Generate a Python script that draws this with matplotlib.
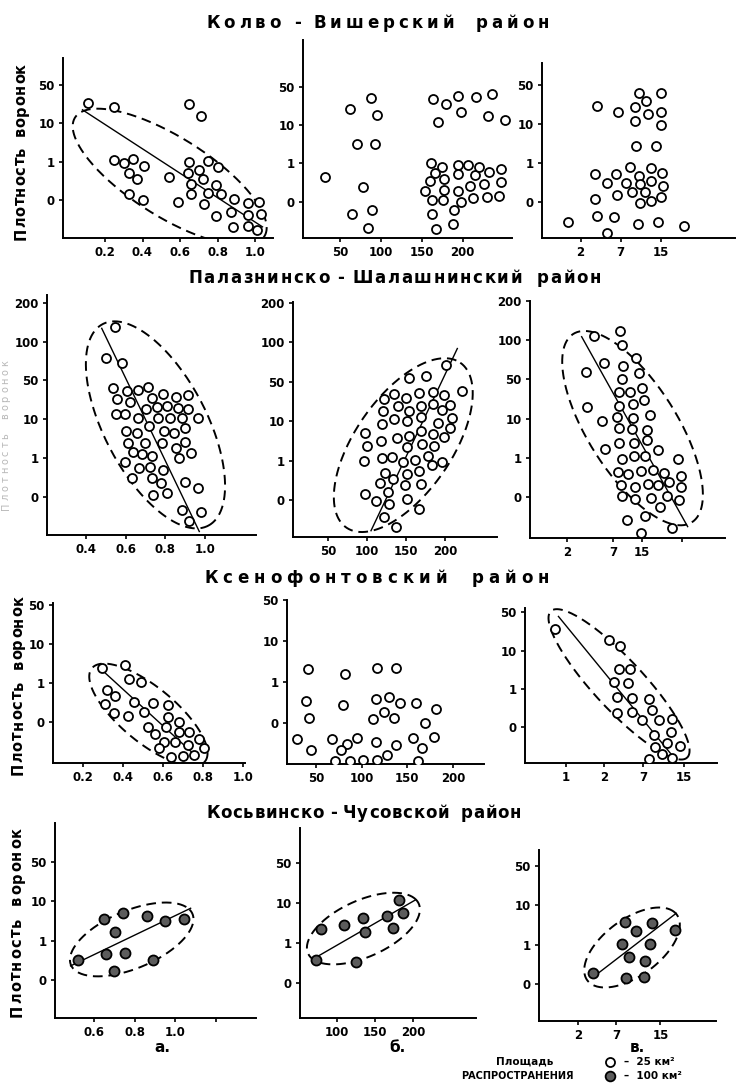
import numpy as np
import matplotlib
matplotlib.use("Agg")
import matplotlib.pyplot as plt
from matplotlib.lines import Line2D
from matplotlib.font_manager import FontProperties

# y values are in class units of the density scale:
# 0 -> "0", 1 -> "1", 2 -> "10", 3 -> "50", 4 -> "100", 5 -> "200"
# x values of the third column are class units of the uneven scale (2, 7, 15)

# --- Колво-Вишерский район
kv_a_x = [0.11, 0.25, 0.65, 0.71, 0.25, 0.30, 0.35, 0.33, 0.37, 0.41, 0.33, 0.40, 0.54, 0.59, 0.65, 0.64, 0.66, 0.66,
          0.70, 0.72, 0.75, 0.73, 0.75, 0.79, 0.80, 0.82, 0.79, 0.89, 0.87, 0.88, 0.96, 0.96, 0.96, 1.02, 1.03, 1.01]
kv_a_y = [2.54, 2.42, 2.50, 2.19, 1.04, 0.96, 1.08, 0.71, 0.54, 0.89, 0.16, 0.00, 0.61, -0.04, 1.00, 0.70, 0.43, 0.16,
          0.78, 0.54, 1.02, -0.10, 0.19, 0.39, 0.85, 0.16, -0.42, 0.02, -0.30, -0.71, -0.09, -0.39, -0.68, -0.04, -0.37, -0.78]
kv_a_line = ([0.08, 1.04], [2.35, -0.70])
kv_a_ell = ((0.545, 0.60), (0.505, -1.548), (0.112, 0.878))

kv_b_x = [31.6, 62, 87.6, 95.7, 70.4, 93.3, 78.6, 65, 89.6, 83.9,
          163.5, 179.8, 194, 216.5, 235.7, 170.4, 197.8, 230.8, 252.4,
          161.8, 175.3, 166, 160, 154.5, 176.9, 177, 163, 176, 194, 195, 194, 198, 207, 215, 209, 220, 213,
          233, 226, 230, 247, 247, 245, 163, 190, 188, 168]
kv_b_y = [0.65, 2.42, 2.71, 2.26, 1.50, 1.50, 0.39, -0.32, -0.23, -0.70,
          2.67, 2.55, 2.76, 2.72, 2.80, 2.09, 2.35, 2.24, 2.13,
          1.02, 0.91, 0.74, 0.54, 0.28, 0.60, 0.30, 0.04, 0.04, 0.95, 0.71, 0.29, 0.0, 0.95, 0.69, 0.41, 0.91, 0.10,
          0.78, 0.46, 0.11, 0.86, 0.50, 0.15, -0.32, -0.23, -0.59, -0.72]

kv_v_x = [0.69, 1.42, 1.94, 2.44, 3.0, 2.62, 2.35, 2.68, 3.0, 2.35, 3.0, 2.39, 2.88, 1.36, 1.65, 1.88, 2.23, 2.13, 2.44,
          2.48, 2.74, 2.76, 3.02, 3.06, 2.27, 2.60, 1.91, 1.37, 2.48, 2.76, 3.0, 1.42, 1.82, 1.65, 2.42, 2.92, 3.56]
kv_v_y = [-0.51, 2.46, 2.31, 2.78, 2.78, 2.59, 2.43, 2.25, 2.30, 2.06, 1.97, 1.44, 1.44, 0.70, 0.47, 0.70, 0.88, 0.49, 0.67,
          0.45, 0.87, 0.53, 0.75, 0.41, 0.24, 0.24, 0.17, 0.07, -0.02, 0.03, 0.11, -0.37, -0.39, -0.79, -0.58, -0.53, -0.63]

# --- Палазнинско-Шалашнинский район
ps_a_x = [0.546, 0.50, 0.583, 0.538, 0.558, 0.551, 0.598, 0.608, 0.622, 0.664, 0.714, 0.734, 0.703, 0.66, 0.756,
          0.761, 0.79, 0.807, 0.824, 0.854, 0.862, 0.886, 0.916, 0.916, 0.963, 0.60, 0.655, 0.61, 0.697, 0.717,
          0.795, 0.845, 0.90, 0.785, 0.852, 0.90, 0.635, 0.684, 0.731, 0.869, 0.928, 0.597, 0.669, 0.723, 0.634,
          0.731, 0.79, 0.776, 0.736, 0.807, 0.90, 0.963, 0.883, 0.978, 0.919]
ps_a_y = [4.38, 3.57, 3.44, 2.79, 2.52, 2.12, 2.13, 2.72, 2.43, 2.75, 2.84, 2.55, 2.25, 2.02, 2.32,
          2.04, 2.64, 2.34, 2.04, 2.56, 2.28, 2.04, 2.62, 2.26, 2.02, 1.68, 1.63, 1.37, 1.39, 1.83,
          1.70, 1.65, 1.76, 1.37, 1.26, 1.42, 1.14, 1.10, 1.06, 0.99, 1.13, 0.90, 0.73, 0.77, 0.49,
          0.49, 0.69, 0.34, 0.04, 0.10, 0.37, 0.21, -0.34, -0.39, -0.64]
ps_a_line = ([0.479, 0.971], [4.34, -0.90])
ps_a_ell = ((0.75, 1.85), (0.266, -2.60), (0.229, 0.61))

ps_b_x = [200.9, 221.4, 153.7, 175.6, 121.6, 134.4, 149.9, 166.6, 184.2, 198.7, 119.9, 139.2, 153.7, 169.2, 185,
          207, 195.7, 118.6, 134.4, 150.7, 168.7, 209.4, 190.6, 97.1, 99.3, 96.3, 117.3, 138.7, 153.7, 168.7,
          184.2, 206.4, 199.2, 150.7, 170, 185.9, 118.6, 132.3, 145.6, 161.4, 177.7, 183.7, 195.7, 122.9, 133.6,
          150.7, 167, 116.4, 126.3, 148.6, 169.2, 97.1, 111.3, 128, 150.7, 121.6, 166.6, 137]
ps_b_y = [3.42, 2.77, 3.10, 3.15, 2.56, 2.69, 2.58, 2.70, 2.74, 2.66, 2.26, 2.38, 2.26, 2.38, 2.43,
          2.41, 2.28, 1.93, 2.04, 2.0, 2.11, 2.09, 1.96, 1.71, 1.37, 0.99, 1.50, 1.56, 1.63, 1.75,
          1.67, 1.82, 1.59, 1.33, 1.41, 1.38, 1.07, 1.08, 0.95, 1.01, 1.11, 0.89, 0.95, 0.69, 0.53,
          0.66, 0.73, 0.42, 0.21, 0.38, 0.40, 0.14, -0.02, -0.10, 0.02, -0.44, -0.24, -0.68]
ps_b_line = ([104.9, 215.9], [-0.78, 3.84])
ps_b_ell = ((146.4, 1.39), (73.3, 2.09), (51, -0.70))

ps_v_x = [1.59, 2.14, 2.19, 1.41, 1.80, 2.20, 2.48, 2.54, 2.19, 2.62, 2.12, 2.36, 2.66, 1.44, 2.13, 2.41, 2.79, 1.75,
          2.07, 2.43, 2.11, 2.39, 2.71, 1.82, 2.13, 2.44, 2.71, 2.96, 2.19, 2.44, 2.68, 3.39, 2.09, 2.31, 2.59, 2.84,
          3.09, 3.44, 2.16, 2.46, 2.75, 2.95, 3.19, 3.44, 2.19, 2.46, 2.80, 3.14, 3.41, 3.0, 2.29, 2.68, 2.59, 3.25]
ps_v_y = [4.12, 4.24, 3.88, 3.18, 3.41, 3.34, 3.56, 3.16, 3.01, 2.78, 2.67, 2.69, 2.48, 2.29, 2.33, 2.37, 2.10, 1.95,
          2.05, 2.01, 1.76, 1.74, 1.71, 1.22, 1.38, 1.38, 1.46, 1.21, 0.98, 1.04, 1.04, 0.98, 0.65, 0.59, 0.68, 0.70,
          0.61, 0.55, 0.30, 0.27, 0.34, 0.30, 0.38, 0.25, 0.03, -0.04, -0.03, 0.02, -0.08, -0.26, -0.58, -0.47, -0.90, -0.79]
ps_v_line = ([1.32, 3.59], [4.09, -0.75])
ps_v_ell = ((2.41, 1.76), (1.27, -2.40), (0.81, 0.61))

# --- Ксенофонтовский район
ks_a_x = [0.292, 0.408, 0.428, 0.488, 0.317, 0.358, 0.308, 0.353, 0.425, 0.455, 0.505, 0.55, 0.525, 0.558, 0.625,
          0.625, 0.613, 0.605, 0.678, 0.58, 0.678, 0.73, 0.78, 0.803, 0.725, 0.658, 0.637, 0.697, 0.755]
ks_a_y = [1.38, 1.47, 1.10, 1.02, 0.83, 0.66, 0.47, 0.25, 0.16, 0.51, 0.27, 0.50, -0.11, -0.31, 0.43,
          0.14, -0.11, -0.51, 0.02, -0.66, -0.26, -0.26, -0.43, -0.66, -0.58, -0.51, -0.88, -0.85, -0.84]
ks_a_line = ([0.292, 0.767], [1.34, -0.88])
ks_a_ell = ((0.525, 0.19), (0.283, -1.19), (0.086, 0.55))

ks_b_x = [40.8, 39.2, 41.8, 29.5, 44.9, 81.8, 79.3, 68, 83.4, 94.7, 77.7, 70.5, 87, 101.4, 115.2, 116.8, 128,
          115.2, 116.8, 137.3, 129.6, 124.5, 112.7, 135.8, 142, 137.3, 158.9, 181, 169.2, 156.3, 165.6, 179.4, 161.5]
ks_b_y = [1.32, 0.55, 0.14, -0.38, -0.64, 1.20, 0.45, -0.37, -0.49, -0.35, -0.65, -0.91, -0.92, -0.90, -0.46, -0.90, -0.78,
          0.59, 1.35, 1.35, 0.65, 0.29, 0.10, 0.14, 0.51, -0.52, 0.51, 0.34, 0.02, -0.35, -0.60, -0.33, -0.92]

ks_v_x = [0.72, 2.10, 2.37, 2.36, 2.63, 2.23, 2.58, 2.31, 2.69, 2.29, 2.69, 2.94, 3.11, 3.20, 3.37, 3.69, 3.24, 3.67,
          3.26, 3.56, 3.90, 3.43, 3.69, 3.12]
ks_v_y = [2.56, 2.28, 2.12, 1.51, 1.51, 1.17, 1.15, 0.80, 0.76, 0.38, 0.41, 0.19, 0.73, 0.45, 0.19, 0.22, -0.20, -0.13,
          -0.50, -0.42, -0.48, -0.70, -0.81, -0.83]
ks_v_line = ([0.81, 3.73], [2.89, -0.77])
ks_v_ell = ((2.35, 1.12), (1.73, -1.91), (0.47, 0.44))

# --- Косьвинско-Чусовской район (100 km2 areas)
kc_a_x = [0.523, 0.651, 0.744, 0.705, 0.863, 0.949, 1.042, 0.658, 0.751, 0.698, 0.891]
kc_a_y = [0.51, 1.56, 1.69, 1.23, 1.62, 1.50, 1.54, 0.65, 0.68, 0.24, 0.51]
kc_a_line = ([0.484, 1.077], [0.36, 1.82])
kc_a_ell = ((0.786, 1.03), (0.285, 0.76), (0.109, -0.545))

kc_b_x = [71.6, 78.4, 109.3, 134, 137, 124.7, 166, 173.5, 181.5, 186.4]
kc_b_y = [0.57, 1.34, 1.45, 1.62, 1.28, 0.53, 1.68, 1.37, 2.08, 1.74]
kc_b_line = ([73.5, 203], [0.65, 2.08])
kc_b_ell = ((134.6, 1.36), (67.9, 0.75), (30.2, -0.50))

kc_v_x = [1.36, 2.17, 2.46, 2.86, 2.11, 2.82, 2.29, 2.70, 2.20, 2.67, 3.44]
kc_v_y = [0.29, 1.57, 1.36, 1.56, 1.02, 1.02, 0.69, 0.58, 0.16, 0.19, 1.37]
kc_v_line = ([1.39, 3.48], [0.19, 1.80])
kc_v_ell = ((2.36, 0.93), (1.0, 0.95), (0.686, -0.364))

density_labels = ['0', '1', '10', '50', '100', '200']
titles = ['Колво - Вишерский  район', 'Палазнинско - Шалашнинский  район',
          'Ксенофонтовский  район', 'Косьвинско - Чусовской  район']
ylabel = 'Плотность  воронок'

W, H = 736, 1083
fig = plt.figure(figsize=(W / 100, H / 100), dpi=100)
fig.patch.set_facecolor('white')
FONT = 'DejaVu Sans'
renderer = fig.canvas.get_renderer()


def box(l, t, r, b):
    return [l / W, 1 - b / H, (r - l) / W, (b - t) / H]


def ellipse(ax, e):
    (cx, cy), (ax1, ay1), (bx1, by1) = e
    t = np.linspace(0, 2 * np.pi, 240)
    ax.plot(cx + ax1 * np.cos(t) + bx1 * np.sin(t), cy + ay1 * np.cos(t) + by1 * np.sin(t),
            color='k', lw=1.4, dashes=(5, 3))


def spread(s, start, end, c, size, vertical=False, color='k', weight='bold'):
    # letter-spaced text stretched from start to end (pixels, top-left origin)
    fp = FontProperties(family=FONT, size=size, weight=weight)
    px = size * 100 / 72
    w = [px * 0.3 if ch == ' ' else renderer.get_text_width_height_descent(ch, fp, ismath=False)[0] for ch in s]
    extra = (abs(end - start) - sum(w)) / (len(s) - 1)
    pos = 0.0
    for ch, wi in zip(s, w):
        if ch != ' ':
            if vertical:
                fig.text((c + 0.36 * px) / W, 1 - (start - pos) / H, ch, rotation=90, rotation_mode='anchor',
                         ha='left', va='baseline', fontproperties=fp, color=color)
            else:
                fig.text((start + pos) / W, 1 - (c + 0.36 * px) / H, ch, ha='left', va='baseline',
                         fontproperties=fp, color=color)
        pos += wi + extra


panels = [
    # row 1
    dict(box=(63, 58, 273, 238), xlim=(-0.024, 1.096), ylim=(-0.99, 3.70), xt=[0.2, 0.4, 0.6, 0.8, 1.0],
         xtl=['0.2', '0.4', '0.6', '0.8', '1.0'], ny=4, x=kv_a_x, y=kv_a_y, line=kv_a_line, ell=kv_a_ell),
    dict(box=(303, 40, 512, 238), xlim=(4.7, 260.6), ylim=(-0.95, 4.22), xt=[50, 100, 150, 200],
         xtl=['50', '100', '150', '200'], ny=4, x=kv_b_x, y=kv_b_y),
    dict(box=(542, 63, 735, 238), xlim=(0.04, 4.84), ylim=(-0.93, 3.56), xt=[1, 2, 3],
         xtl=['2', '7', '15'], ny=4, x=kv_v_x, y=kv_v_y),
    # row 2
    dict(box=(47, 295, 256, 535), xlim=(0.203, 1.257), ylim=(-0.99, 5.2), xt=[0.4, 0.6, 0.8, 1.0],
         xtl=['0.4', '0.6', '0.8', '1.0'], ny=6, x=ps_a_x, y=ps_a_y, line=ps_a_line, ell=ps_a_ell),
    dict(box=(293, 302, 497, 537), xlim=(4.6, 266.9), ylim=(-0.94, 5.02), xt=[50, 100, 150, 200],
         xtl=['50', '100', '150', '200'], ny=6, x=ps_b_x, y=ps_b_y, line=ps_b_line, ell=ps_b_ell),
    dict(box=(530, 301, 725, 538), xlim=(0.214, 4.39), ylim=(-1.04, 5.0), xt=[1.0, 2.0, 2.61, 3.46],
         xtl=['2', '7', '15', ''], ny=6, x=ps_v_x, y=ps_v_y, line=ps_v_line, ell=ps_v_ell),
    # row 3
    dict(box=(53, 603, 245, 763), xlim=(0.048, 1.008), ylim=(-1.04, 3.05), xt=[0.2, 0.4, 0.6, 0.8, 1.0],
         xtl=['0.2', '0.4', '0.6', '0.8', '1.0'], ny=4, x=ks_a_x, y=ks_a_y, line=ks_a_line, ell=ks_a_ell),
    dict(box=(287, 600, 484, 764), xlim=(18.2, 233.9), ylim=(-0.99, 3.01), xt=[50, 100, 150, 200],
         xtl=['50', '100', '150', '200'], ny=4, x=ks_b_x, y=ks_b_y),
    dict(box=(525, 608, 717, 763), xlim=(-0.04, 4.84), ylim=(-0.93, 3.11), xt=[1, 1.97, 2.97, 4.0],
         xtl=['1', '2', '7', '15'], ny=4, x=ks_v_x, y=ks_v_y, line=ks_v_line, ell=ks_v_ell),
    # row 4
    dict(box=(55, 823, 256, 1018), xlim=(0.407, 1.40), ylim=(-0.96, 3.98), xt=[0.6, 0.8, 1.0, 1.2],
         xtl=['0.6', '0.8', '1.0', ''], ny=4, x=kc_a_x, y=kc_a_y, line=kc_a_line, ell=kc_a_ell, filled=True),
    dict(box=(300, 828, 476, 1018), xlim=(51.2, 282.7), ylim=(-0.89, 3.89), xt=[100, 150, 200],
         xtl=['100', '150', '200'], ny=4, x=kc_b_x, y=kc_b_y, line=kc_b_line, ell=kc_b_ell, filled=True),
    dict(box=(539, 850, 716, 1021), xlim=(0.0, 4.49), ylim=(-0.94, 3.41), xt=[1.0, 1.95, 3.08],
         xtl=['2', '7', '15'], ny=4, x=kc_v_x, y=kc_v_y, line=kc_v_line, ell=kc_v_ell, filled=True),
]

for p in panels:
    ax = fig.add_axes(box(*p['box']))
    ax.set_facecolor('none')
    for s in ['top', 'right']:
        ax.spines[s].set_visible(False)
    for s in ['left', 'bottom']:
        ax.spines[s].set_linewidth(1.4)
    if 'ell' in p:
        ellipse(ax, p['ell'])
    if 'line' in p:
        ax.plot(p['line'][0], p['line'][1], color='k', lw=1.0)
    if p.get('filled'):
        ax.scatter(p['x'], p['y'], s=52, facecolor='#5c5c5c', edgecolor='k', linewidths=1.3, zorder=3)
    else:
        ax.scatter(p['x'], p['y'], s=42, facecolor='white', edgecolor='k', linewidths=1.3, zorder=3)
    ax.set_xlim(*p['xlim'])
    ax.set_ylim(*p['ylim'])
    ax.set_xticks(p['xt'])
    ax.set_xticklabels(p['xtl'], fontsize=8.5, fontweight='bold', family=FONT)
    ax.set_yticks(range(p['ny']))
    ax.set_yticklabels(density_labels[:p['ny']], fontsize=8.5, fontweight='bold', family=FONT)
    ax.tick_params(direction='out', length=3, width=1.2, pad=3)

# row titles, letter-spaced like the original lettering
for txt, (x0, x1, cy) in zip(titles, [(206, 549, 22), (188, 601, 277), (204, 549, 577), (206, 521, 812)]):
    spread(txt, x0, x1, cy, 12)

# y axis labels (bottom -> top)
spread(ylabel, 240, 63, 20, 10.5, vertical=True)
spread(ylabel, 775, 595, 17, 10.5, vertical=True)
spread(ylabel, 1017, 827, 16, 10.5, vertical=True)
spread(ylabel, 510, 360, 5, 7, vertical=True, color='0.72', weight='normal')

# sub-figure letters
for txt, (cx, cy) in zip(['а.', 'б.', 'в.'], [(162, 1047), (397, 1047), (637, 1048)]):
    fig.text(cx / W, 1 - cy / H, txt, ha='center', va='center', fontsize=11, fontweight='bold', family=FONT)

# legend
fig.text(525 / W, 1 - 1062 / H, 'Площадь', ha='center', va='center', fontsize=7.5, fontweight='bold', family=FONT)
fig.text(517 / W, 1 - 1076 / H, 'РАСПРОСТРАНЕНИЯ', ha='center', va='center', fontsize=7, fontweight='bold', family=FONT)
fig.add_artist(Line2D([610 / W], [1 - 1062 / H], transform=fig.transFigure, marker='o', ms=6.5,
                      mfc='white', mec='k', mew=1.3, ls='none'))
fig.add_artist(Line2D([610 / W], [1 - 1076 / H], transform=fig.transFigure, marker='o', ms=7,
                      mfc='#5c5c5c', mec='k', mew=1.3, ls='none'))
fig.text(624 / W, 1 - 1062 / H, '–  25 км²', ha='left', va='center', fontsize=7.5, fontweight='bold', family=FONT)
fig.text(624 / W, 1 - 1076 / H, '–  100 км²', ha='left', va='center', fontsize=7.5, fontweight='bold', family=FONT)

fig.savefig('out.png', dpi=100, facecolor='white')
